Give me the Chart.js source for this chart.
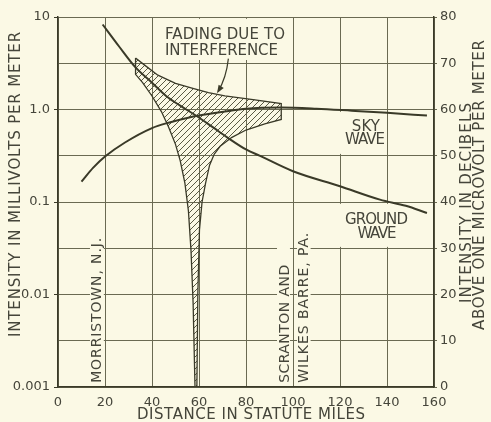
<!DOCTYPE html>
<html>
<head>
<meta charset="utf-8">
<script src="https://cdn.jsdelivr.net/npm/chart.js@4.4.1/dist/chart.umd.min.js"></script>
<style>
  html, body { margin: 0; padding: 0; background: #fbf9e5; }
  canvas { display: block; }
</style>
</head>
<body>
<canvas id="chart" width="491" height="422"></canvas>
<script>
// distance in statute miles, intensity in millivolts per meter
const groundMiles = [19, 26, 33, 40, 46, 52, 59, 66, 72, 80, 86, 100, 120, 137, 148, 157];
const groundMv = [8.3, 4.8, 2.85, 1.95, 1.4, 1.1, 0.85, 0.64, 0.5, 0.37, 0.315, 0.215, 0.148, 0.106, 0.091, 0.076];

const skyMiles = [10, 15, 20, 28.5, 40, 47, 55, 60, 71, 80, 95, 110, 125, 140, 157];
const skyMv = [0.166, 0.235, 0.31, 0.44, 0.63, 0.72, 0.81, 0.86, 0.95, 1.02, 1.05, 1.02, 0.97, 0.92, 0.86];

// outline of the fading band (max above, min below, closed)
const fadeMiles = [33, 37, 42.5, 50, 57, 64, 71, 83, 95,
  95, 88, 80, 74, 69, 66.5, 64.5, 62.8, 61.3, 60.2, 59.5, 59.1,
  58.3, 57.5, 56.6, 55.5, 54, 52, 50, 47, 44, 40, 36, 33, 33];
const fadeMv = [3.6, 3.0, 2.35, 1.92, 1.7, 1.52, 1.4, 1.28, 1.16,
  0.78, 0.7, 0.6, 0.5, 0.4, 0.33, 0.25, 0.16, 0.1, 0.05, 0.01, 0.001,
  0.001, 0.008, 0.03, 0.08, 0.16, 0.28, 0.42, 0.65, 0.95, 1.4, 1.95, 2.4, 3.6];

const mileTicks = [0, 20, 40, 60, 80, 100, 120, 140, 160];
const mvTicks = [0.001, 0.01, 0.1, 1, 10];
const mvLabels = ['0.001', '0.01', '0.1', '1.0', '10'];
const dbTicks = [0, 10, 20, 30, 40, 50, 60, 70, 80];

const paper = '#fbf9e5';
const ink = '#3a3a28';
const gridInk = '#6a6a52';
const textInk = '#45453a';
const font = 'DejaVu Sans';

const pts = (xs, ys) => xs.map((x, i) => ({ x: x, y: ys[i] }));

function hatch() {
  const c = document.createElement('canvas');
  c.width = 6; c.height = 6;
  const g = c.getContext('2d');
  g.strokeStyle = '#5a5a44';
  g.lineWidth = 1;
  g.beginPath();
  g.moveTo(0, 6); g.lineTo(6, 0);
  g.moveTo(-1, 1); g.lineTo(1, -1);
  g.moveTo(5, 7); g.lineTo(7, 5);
  g.stroke();
  return g.createPattern(c, 'repeat');
}

// text: centre or left point given in miles / dB, w = wanted width in px
const notes = [
  { text: 'FADING DUE TO', mi: 45.5, db: 76, w: 120, align: 'left' },
  { text: 'INTERFERENCE', mi: 45.5, db: 72.7, w: 113, align: 'left' },
  { text: 'SKY', mi: 131, db: 56.2, w: 28, align: 'center' },
  { text: 'WAVE', mi: 130.6, db: 53.3, w: 40, align: 'center' },
  { text: 'GROUND', mi: 135.5, db: 36, w: 63, align: 'center' },
  { text: 'WAVE', mi: 135.7, db: 33, w: 39, align: 'center' },
  { text: 'MORRISTOWN, N.J.', mi: 16.6, db: 0.9, w: 145, align: 'left', up: true },
  { text: 'SCRANTON AND', mi: 96.6, db: 0.9, w: 118, align: 'left', up: true },
  { text: 'WILKES BARRE, PA.', mi: 104.9, db: 0.9, w: 150, align: 'left', up: true },
];
// areas where the grid is cleared behind labels [mi0, mi1, db0, db1]
const clearings = [
  [41.7, 98.7, 70.7, 79.6],
  [119.6, 139.4, 50.4, 59.5],
  [119.1, 151.5, 30.3, 39.6],
  [13.6, 19.5, 0.3, 33],
  [93.2, 98.7, 0.3, 30.5],
  [101.7, 107.5, 0.3, 34],
];

function fitText(ctx, text, x, y, w, align) {
  ctx.letterSpacing = '0px';
  const nat = ctx.measureText(text).width;
  const sp = (w - nat) / Math.max(1, text.length - 1);
  ctx.letterSpacing = sp.toFixed(2) + 'px';
  ctx.textAlign = 'left';
  const start = align === 'center' ? x - w / 2 : x;
  ctx.fillText(text, start, y);
  ctx.letterSpacing = '0px';
}

const decor = {
  id: 'decor',
  beforeDraw(chart) {
    const ctx = chart.ctx;
    ctx.save();
    ctx.fillStyle = paper;
    ctx.fillRect(0, 0, chart.width, chart.height);
    ctx.restore();
  },
  beforeDatasetsDraw(chart) {
    const ctx = chart.ctx, sx = chart.scales.x, sd = chart.scales.y2;
    ctx.save();
    ctx.fillStyle = paper;
    clearings.forEach(([m0, m1, d0, d1]) => {
      const x0 = sx.getPixelForValue(m0), x1 = sx.getPixelForValue(m1);
      const y0 = sd.getPixelForValue(d1), y1 = sd.getPixelForValue(d0);
      ctx.fillRect(x0, y0, x1 - x0, y1 - y0);
    });
    ctx.restore();
  },
  afterDatasetsDraw(chart) {
    const ctx = chart.ctx, sx = chart.scales.x, sd = chart.scales.y2;
    ctx.save();
    ctx.fillStyle = textInk;
    ctx.textBaseline = 'middle';
    notes.forEach(n => {
      const x = sx.getPixelForValue(n.mi), y = sd.getPixelForValue(n.db);
      ctx.font = (n.up ? '14px ' : '15px ') + font;
      if (n.up) {
        ctx.save();
        ctx.translate(x, y);
        ctx.rotate(-Math.PI / 2);
        fitText(ctx, n.text, 0, 0, n.w, 'left');
        ctx.restore();
      } else {
        fitText(ctx, n.text, x, y, n.w, n.align);
      }
    });

    // arrow from the label to the band
    const ax = sx.getPixelForValue(72.5), ay = sd.getPixelForValue(71.0);
    const cx = sx.getPixelForValue(71.6), cy = sd.getPixelForValue(66.8);
    const bx = sx.getPixelForValue(68.1), by = sd.getPixelForValue(63.9);
    ctx.strokeStyle = ink;
    ctx.lineWidth = 1.2;
    ctx.beginPath();
    ctx.moveTo(ax, ay);
    ctx.quadraticCurveTo(cx, cy, bx, by);
    ctx.stroke();
    const ang = Math.atan2(by - cy, bx - cx);
    ctx.beginPath();
    ctx.moveTo(bx + Math.cos(ang) * 2, by + Math.sin(ang) * 2);
    ctx.lineTo(bx - Math.cos(ang) * 6 - Math.sin(ang) * 3, by - Math.sin(ang) * 6 + Math.cos(ang) * 3);
    ctx.lineTo(bx - Math.cos(ang) * 6 + Math.sin(ang) * 3, by - Math.sin(ang) * 6 - Math.cos(ang) * 3);
    ctx.closePath();
    ctx.fillStyle = ink;
    ctx.fill();
    ctx.restore();
  },
  afterDraw(chart) {
    const ctx = chart.ctx;
    ctx.save();
    ctx.fillStyle = textInk;
    ctx.textBaseline = 'middle';
    ctx.font = '15px ' + font;
    fitText(ctx, 'DISTANCE IN STATUTE MILES', 251, 415, 228, 'center');
    const up = (text, x, y, w) => {
      ctx.save();
      ctx.translate(x, y);
      ctx.rotate(-Math.PI / 2);
      fitText(ctx, text, 0, 0, w, 'center');
      ctx.restore();
    };
    up('INTENSITY IN MILLIVOLTS PER METER', 16, 184.5, 305);
    up('INTENSITY IN DECIBELS', 467.5, 203, 200);
    up('ABOVE ONE MICROVOLT PER METER', 480.5, 185, 290);
    ctx.restore();
  }
};

new Chart(document.getElementById('chart'), {
  type: 'scatter',
  data: {
    datasets: [
      {
        label: 'Fading due to interference',
        data: pts(fadeMiles, fadeMv),
        showLine: true,
        fill: 'shape',
        backgroundColor: hatch(),
        borderColor: ink,
        borderWidth: 1.3,
        tension: 0,
        pointRadius: 0,
        yAxisID: 'y',
        order: 3,
      },
      {
        label: 'Sky wave',
        data: pts(skyMiles, skyMv),
        showLine: true,
        borderColor: ink,
        borderWidth: 2,
        cubicInterpolationMode: 'monotone',
        pointRadius: 0,
        yAxisID: 'y',
        order: 1,
      },
      {
        label: 'Ground wave',
        data: pts(groundMiles, groundMv),
        showLine: true,
        borderColor: ink,
        borderWidth: 2,
        cubicInterpolationMode: 'monotone',
        pointRadius: 0,
        yAxisID: 'y',
        order: 1,
      },
    ],
  },
  options: {
    responsive: false,
    animation: false,
    events: [],
    layout: { padding: { top: 17, left: 0, right: 0, bottom: 0 } },
    plugins: {
      legend: { display: false },
      tooltip: { enabled: false },
    },
    scales: {
      x: {
        type: 'linear',
        min: 0,
        max: 160,
        afterFit: (s) => { s.height = 35; },
        afterBuildTicks: (s) => { s.ticks = mileTicks.map((v) => ({ value: v })); },
        ticks: {
          autoSkip: false,
          maxRotation: 0,
          padding: 8,
          color: textInk,
          font: { family: font, size: 13 },
        },
        grid: { color: gridInk, lineWidth: 1, drawTicks: false },
        border: { display: true, color: ink, width: 1.5 },
      },
      y: {
        type: 'logarithmic',
        position: 'left',
        min: 0.001,
        max: 10,
        afterFit: (s) => { s.width = 58; },
        afterBuildTicks: (s) => { s.ticks = mvTicks.map((v) => ({ value: v })); },
        ticks: {
          autoSkip: false,
          padding: 4,
          color: textInk,
          font: { family: font, size: 13 },
          callback: (v) => mvLabels[mvTicks.indexOf(v)],
        },
        grid: { drawOnChartArea: false, color: ink, tickLength: 4 },
        border: { display: true, color: ink, width: 1.5 },
      },
      y2: {
        type: 'linear',
        position: 'right',
        min: 0,
        max: 80,
        afterFit: (s) => { s.width = 57; },
        afterBuildTicks: (s) => { s.ticks = dbTicks.map((v) => ({ value: v })); },
        ticks: {
          autoSkip: false,
          padding: 3,
          color: textInk,
          font: { family: font, size: 13 },
        },
        grid: { color: gridInk, lineWidth: 1, tickLength: 3 },
        border: { display: true, color: ink, width: 1.5 },
      },
    },
  },
  plugins: [decor],
});
</script>
</body>
</html>
